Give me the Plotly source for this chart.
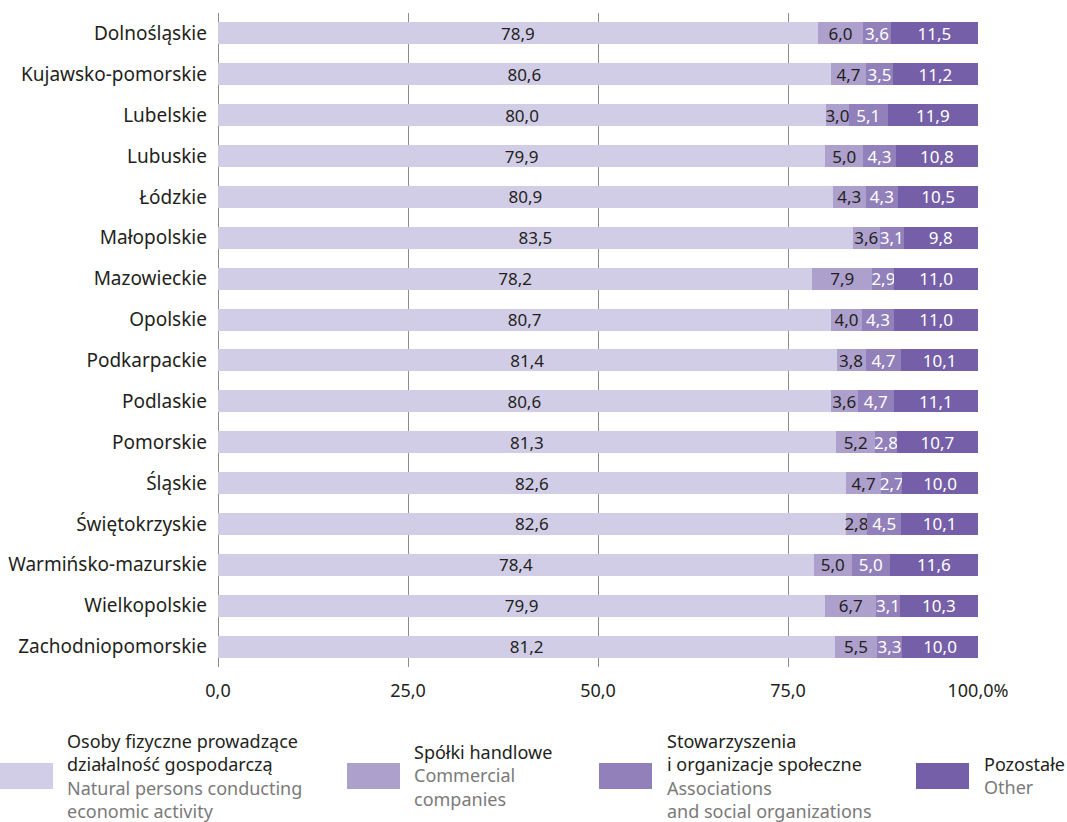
import plotly.graph_objects as go

regions = ["Dolnośląskie", "Kujawsko-pomorskie", "Lubelskie", "Lubuskie", "Łódzkie",
           "Małopolskie", "Mazowieckie", "Opolskie", "Podkarpackie", "Podlaskie",
           "Pomorskie", "Śląskie", "Świętokrzyskie", "Warmińsko-mazurskie",
           "Wielkopolskie", "Zachodniopomorskie"]

natural_persons = [78.9, 80.6, 80.0, 79.9, 80.9, 83.5, 78.2, 80.7, 81.4, 80.6, 81.3, 82.6, 82.6, 78.4, 79.9, 81.2]
commercial = [6.0, 4.7, 3.0, 5.0, 4.3, 3.6, 7.9, 4.0, 3.8, 3.6, 5.2, 4.7, 2.8, 5.0, 6.7, 5.5]
associations = [3.6, 3.5, 5.1, 4.3, 4.3, 3.1, 2.9, 4.3, 4.7, 4.7, 2.8, 2.7, 4.5, 5.0, 3.1, 3.3]
other = [11.5, 11.2, 11.9, 10.8, 10.5, 9.8, 11.0, 11.0, 10.1, 11.1, 10.7, 10.0, 10.1, 11.6, 10.3, 10.0]

tick_vals = [0, 25, 50, 75, 100]
tick_text = ["0,0", "25,0", "50,0", "75,0", "100,0%"]

series_pl = [["Osoby fizyczne prowadzące", "działalność gospodarczą"],
             ["Spółki handlowe"],
             ["Stowarzyszenia", "i organizacje społeczne"],
             ["Pozostałe"]]
series_en = [["Natural persons conducting", "economic activity"],
             ["Commercial", "companies"],
             ["Associations", "and social organizations"],
             ["Other"]]

colors = ["#d2cde6", "#ada0cd", "#9280bb", "#755fa8"]
text_colors = ["#231f20", "#231f20", "#ffffff", "#ffffff"]

FONT = "Noto Sans"
DARK = "#231f20"
GREY_TXT = "#7a7a7a"

fig = go.Figure()
for vals, name, col, tcol in zip([natural_persons, commercial, associations, other],
                                 series_pl, colors, text_colors):
    fig.add_trace(go.Bar(
        y=regions, x=vals, orientation="h", name=" ".join(name),
        marker=dict(color=col, line=dict(width=0)),
        text=[f"{v:.1f}".replace(".", ",") for v in vals],
        textposition="inside", insidetextanchor="middle", textangle=0,
        textfont=dict(family=FONT, size=17, color=tcol),
        hoverinfo="skip",
    ))

W, H = 1067, 822
ml, mr, mt, mb = 218, 89, 13, 155
pw, ph = W - ml - mr, H - mt - mb

def px_x(x):
    return (x - ml) / pw

def px_y(y):
    return (H - mb - y) / ph

fig.update_layout(
    width=W, height=H,
    barmode="stack", bargap=0.46,
    margin=dict(l=ml, r=mr, t=mt, b=mb, pad=0, autoexpand=False),
    paper_bgcolor="white", plot_bgcolor="white",
    showlegend=False,
    font=dict(family=FONT, size=18, color=DARK),
    uniformtext=dict(minsize=17, mode="show"),
    xaxis=dict(range=[0, 100], tickvals=tick_vals, ticktext=tick_text,
               showgrid=True, gridcolor="#8c8c8c", gridwidth=1,
               zeroline=True, zerolinecolor="#8c8c8c", zerolinewidth=1,
               showline=False, ticks="", ticklabelstandoff=11, automargin=False,
               tickfont=dict(family=FONT, size=18, color=DARK), fixedrange=True),
    yaxis=dict(autorange="reversed", showgrid=False, zeroline=False, showline=False,
               ticks="", ticklabelstandoff=10, automargin=False,
               tickfont=dict(family=FONT, size=19, color=DARK)),
)

# Legend built from swatches and annotations
sw_x = [0, 347, 599, 916]
txt_x = [65, 412, 665, 982]
sw_w = 53
sw_top, sw_bot = 763, 789
mid_y = 775.5
for sx, tx, col, pl, en in zip(sw_x, txt_x, colors, series_pl, series_en):
    fig.add_shape(type="rect", xref="paper", yref="paper",
                  x0=px_x(sx), x1=px_x(sx + sw_w), y0=px_y(sw_bot), y1=px_y(sw_top),
                  fillcolor=col, line=dict(width=0), layer="above")
    txt = "<br>".join(pl) + "<br>" + "<br>".join(
        f"<span style='color:{GREY_TXT}'>{t}</span>" for t in en)
    fig.add_annotation(xref="paper", yref="paper", x=px_x(tx), y=px_y(mid_y),
                       xanchor="left", yanchor="middle", align="left", showarrow=False,
                       text=txt, font=dict(family=FONT, size=18, color=DARK))

fig.write_html("out.html", config={"displayModeBar": False},
               post_script="document.body.style.margin='0';")
